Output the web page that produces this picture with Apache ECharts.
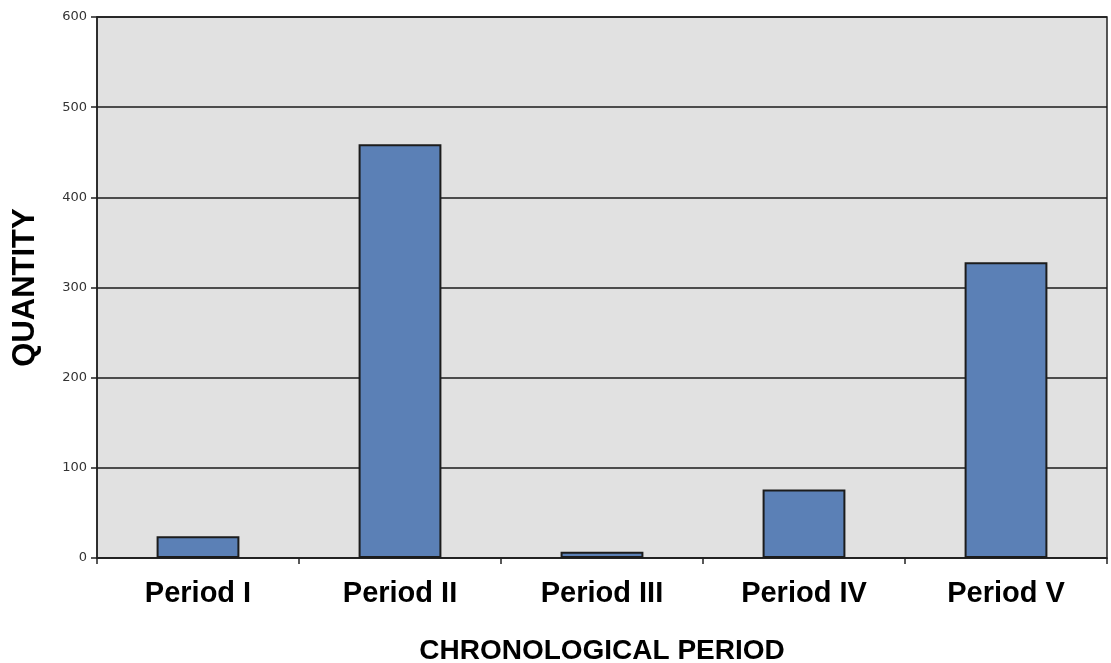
<!DOCTYPE html>
<html><head><meta charset="utf-8">
<script src="https://cdn.jsdelivr.net/npm/echarts@6/dist/echarts.min.js"></script>
<style>html,body{margin:0;padding:0;background:#fff}#c{width:1111px;height:663px}</style>
</head><body><div id="c"></div>
<script>
const categories = ["Period I", "Period II", "Period III", "Period IV", "Period V"];
const quantities = [24, 459, 7, 76, 328];
const yTicks = {min: 0, max: 600, interval: 100};

const chart = echarts.init(document.getElementById('c'), null, {renderer: 'canvas'});
chart.setOption({
  animation: false,
  grid: {left: 97, right: 4, top: 17, bottom: 105, outerBoundsMode: 'none', containLabel: false, show: true, backgroundColor: '#e1e1e1', borderColor: '#222', borderWidth: 1.5},
  xAxis: {
    type: 'category', data: categories,
    name: 'CHRONOLOGICAL PERIOD', nameLocation: 'middle', nameGap: 79,
    nameTextStyle: {fontFamily: 'Liberation Sans', fontWeight: 'bold', fontSize: 28, color: '#000'},
    axisLine: {lineStyle: {color: '#222', width: 1.5}},
    axisTick: {show: true, length: 6, lineStyle: {color: '#222', width: 1.5}},
    axisLabel: {fontFamily: 'Liberation Sans', fontWeight: 'bold', fontSize: 29, color: '#000', margin: 21}
  },
  yAxis: {
    type: 'value', min: yTicks.min, max: yTicks.max, interval: yTicks.interval,
    name: 'QUANTITY', nameLocation: 'middle', nameGap: 56, nameRotate: 90,
    nameTextStyle: {fontFamily: 'Liberation Sans', fontWeight: 'bold', fontSize: 31, color: '#000'},
    axisLine: {show: true, lineStyle: {color: '#222', width: 1.5}},
    axisTick: {show: true, length: 6, lineStyle: {color: '#222', width: 1.5}},
    axisLabel: {fontFamily: 'DejaVu Sans', fontSize: 13, color: '#333', margin: 10},
    splitLine: {lineStyle: {color: '#1a1a1a', width: 1.5}}
  },
  series: [{
    type: 'bar', data: quantities, barWidth: '41%',
    itemStyle: {color: '#5b80b6', borderColor: '#1c1c1c', borderWidth: 2}
  }]
});
</script></body></html>
